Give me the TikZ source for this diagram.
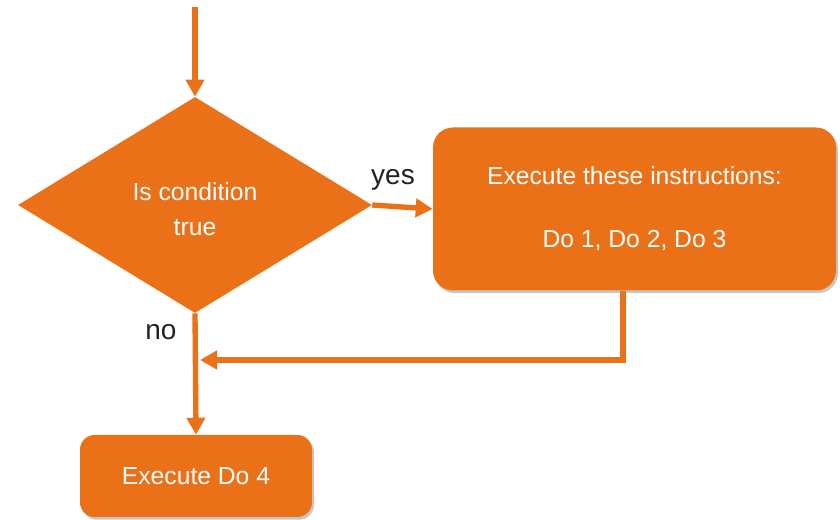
\documentclass[tikz,border=0pt]{standalone}
\usepackage{fontspec}
\setmainfont{Liberation Sans}
\usetikzlibrary{shapes.geometric,arrows.meta,shadows}
\definecolor{flow}{RGB}{235,113,24}
\definecolor{lbl}{RGB}{34,34,34}
\tikzset{
  boxshadow/.style={drop shadow={opacity=0.22,shadow xshift=1.5pt,shadow yshift=-2pt,fill=black}},
  whitetext/.style={text=white,align=center,font=\fontsize{18.5}{26.25}\selectfont},
  procbox/.style={rectangle,fill=flow,whitetext,inner sep=0pt,boxshadow},
  decbox/.style={diamond,fill=flow,inner sep=0pt},
  dectext/.style={whitetext,inner sep=0pt},
  conn/.style={draw=flow,line width=4pt,-{Triangle[length=12.75pt,width=13.5pt]}},
  lab/.style={text=lbl,font=\fontsize{21}{24}\selectfont,inner sep=0pt}
}
\begin{document}
\begin{tikzpicture}[x=0.75pt,y=-0.75pt]
\path[use as bounding box] (0,0) rectangle (840,520);
\node[decbox,minimum width=265.5pt,minimum height=162pt] (dia) at (195,205) {};
\node[dectext] (diatext) at (195,209) {Is condition\\true};
\node[procbox,minimum width=302.25pt,minimum height=122.25pt,rounded corners=15pt] (box1) at (634.5,209)
  {Execute these instructions:\\[21pt]Do 1, Do 2, Do 3};
\node[procbox,minimum width=174pt,minimum height=61.5pt,rounded corners=11pt] (box2) at (196,476) {\raisebox{-2pt}{Execute Do 4}};
\coordinate (start) at (195,7);
\coordinate (lp) at (623,360);
\coordinate (mj) at (200,360);
\draw[conn] (start) -- (dia.north);
\draw[conn] (dia.east) -- (box1.west);
\draw[conn] (dia.south) -- (box2.north);
\draw[conn] (lp |- box1.south) -- (lp) -- (mj);
\node[lab] (yes) at (393,180) {yes};
\node[lab] (no) at (161,332) {no};
\end{tikzpicture}
\end{document}
